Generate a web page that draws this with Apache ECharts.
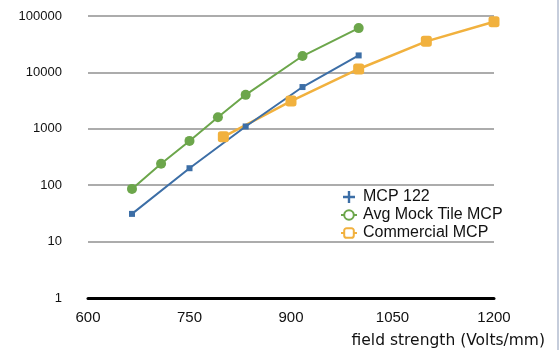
<!DOCTYPE html>
<html>
<head>
<meta charset="utf-8">
<script src="https://cdn.jsdelivr.net/npm/echarts@6/dist/echarts.min.js"></script>
<style>
  html, body { margin: 0; padding: 0; background: #fff; }
  #chart { width: 560px; height: 350px; }
</style>
</head>
<body>
<div id="chart"></div>
<script>
// Datos
var seriesNames = ['MCP 122', 'Avg Mock Tile MCP', 'Commercial MCP'];
var mcpX = [665, 750, 833, 917, 1000];
var mcpY = [31, 200, 1100, 5500, 20000];
var mockX = [665, 708, 750, 792, 833, 917, 1000];
var mockY = [86, 240, 610, 1600, 4000, 19500, 61000];
var commX = [800, 900, 1000, 1100, 1200];
var commY = [720, 3100, 11500, 35500, 79000];
var xTicks = [600, 750, 900, 1050, 1200];
var yTicks = [1, 10, 100, 1000, 10000, 100000];

var blue = '#3c6ea6';
var green = '#6ca64b';
var orange = '#f1b13e';

function pairs(xs, ys) {
  return xs.map(function (x, i) { return [x, ys[i]]; });
}

var chart = echarts.init(document.getElementById('chart'));

var option = {
  animation: false,
  grid: { left: 88, right: 66, top: 16, bottom: 52 },
  graphic: [
    { type: 'line', shape: { x1: 558, y1: 0, x2: 558, y2: 350 }, style: { stroke: '#8c9bb8', lineWidth: 1 } }
  ],
  legend: {
    orient: 'vertical',
    left: 335,
    top: 184,
    itemWidth: 16,
    itemHeight: 12,
    itemGap: 2,
    textStyle: { fontFamily: 'Liberation Sans', fontSize: 16, color: '#111', padding: [0, 0, 0, 1] },
    data: [
      { name: seriesNames[0], icon: 'path://M4,0H6V4H10V6H6V10H4V6H0V4H4Z', itemStyle: { color: blue } },
      { name: seriesNames[1], itemStyle: { color: '#fff', borderColor: green, borderWidth: 2 } },
      { name: seriesNames[2], itemStyle: { color: '#fff', borderColor: orange, borderWidth: 2 } }
    ]
  },
  xAxis: {
    type: 'value',
    min: xTicks[0],
    max: xTicks[xTicks.length - 1],
    interval: 150,
    name: 'field strength (Volts/mm)',
    nameLocation: 'end',
    nameGap: 51,
    nameTextStyle: {
      fontFamily: 'DejaVu Sans', fontSize: 15.5, color: '#111',
      align: 'right', verticalAlign: 'top', padding: [35, 0, 0, 0]
    },
    axisLine: { lineStyle: { color: '#000', width: 3 } },
    axisTick: { show: false },
    splitLine: { show: false },
    axisLabel: {
      fontFamily: 'Liberation Sans', fontSize: 15, color: '#111', margin: 12,
      formatter: function (v) { return String(v); }
    }
  },
  yAxis: {
    type: 'log',
    logBase: 10,
    min: yTicks[0],
    max: yTicks[yTicks.length - 1],
    axisLine: { show: false },
    axisTick: { show: false },
    splitLine: { lineStyle: { color: '#acacac', width: 2 } },
    axisLabel: {
      fontFamily: 'Liberation Sans', fontSize: 13, color: '#111', margin: 26,
      formatter: function (v) { return String(Math.round(v)); }
    }
  },
  series: [
    {
      name: seriesNames[2], type: 'line', data: pairs(commX, commY),
      symbol: 'roundRect', symbolSize: 11,
      itemStyle: { color: orange }, lineStyle: { color: orange, width: 2.5 }
    },
    {
      name: seriesNames[1], type: 'line', data: pairs(mockX, mockY),
      symbol: 'circle', symbolSize: 10,
      itemStyle: { color: green }, lineStyle: { color: green, width: 2 }
    },
    {
      name: seriesNames[0], type: 'line', data: pairs(mcpX, mcpY),
      symbol: 'rect', symbolSize: 6,
      itemStyle: { color: blue }, lineStyle: { color: blue, width: 2 }
    }
  ]
};

chart.setOption(option);
</script>
</body>
</html>
